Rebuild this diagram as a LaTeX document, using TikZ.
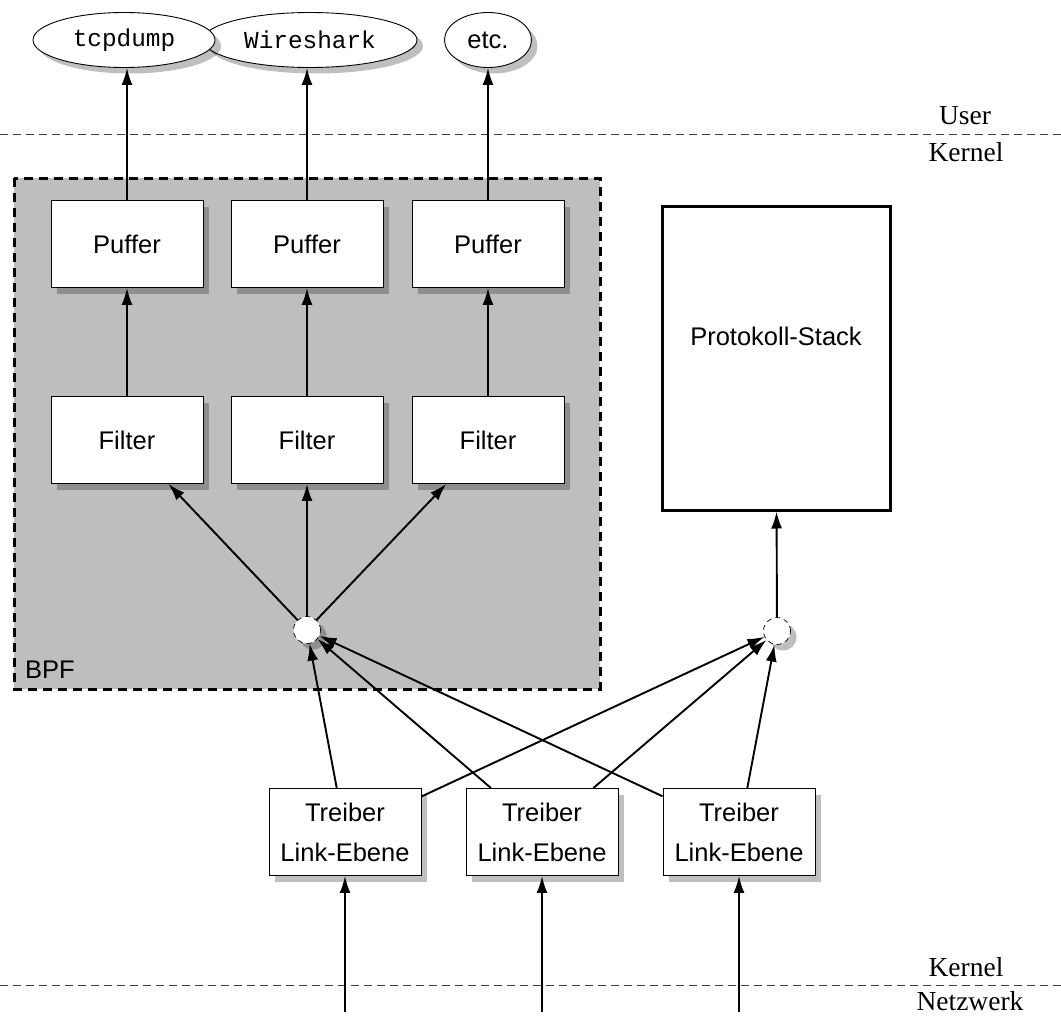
\documentclass[tikz,border=0pt]{standalone}
\usepackage{fontspec}
\setmainfont{Liberation Serif}
\setsansfont{Liberation Sans}
\setmonofont{Liberation Mono}
\usetikzlibrary{shapes.geometric,shadows,arrows.meta}
\definecolor{bpfgray}{RGB}{190,190,190}
\begin{document}
\begin{tikzpicture}[x=1pt,y=-1pt,
  shad/.style={drop shadow={shadow xshift=6pt,shadow yshift=-6pt,fill=black,opacity=0.25}},
  box/.style={draw=black,line width=0.9pt,fill=white,shad,minimum width=152pt,minimum height=87pt,
     font=\sffamily\fontsize{25.5}{40}\selectfont,align=center,inner sep=0pt},
  app/.style={draw=black,line width=0.9pt,fill=white,ellipse,shad,minimum height=55pt,inner sep=0pt},
  junc/.style={circle,draw=black,line width=0.7pt,dash pattern=on 5pt off 4pt,fill=white,shad,minimum size=27pt,inner sep=0pt},
  arr/.style={line width=1.9pt,-{Latex[length=17pt,width=11pt]}},
  sep/.style={line width=1pt,black!75,dash pattern=on 8pt off 5pt},
  lbl/.style={font=\rmfamily\fontsize{27.5}{30}\selectfont,inner sep=0pt}
]
\useasboundingbox (0,0) rectangle (1061,1017);
% BPF area
\draw[line width=3pt,dash pattern=on 9pt off 6pt,fill=bpfgray] (14,178) rectangle (600,689);
\node[anchor=base west,font=\sffamily\fontsize{25.5}{28}\selectfont,inner sep=0pt] (bpf) at (25,678) {BPF};
% separators
\draw[sep] (0,134) -- (1061,134);
\draw[sep] (0,985) -- (1061,985);
\node[lbl,anchor=base] (user) at (965,124) {User};
\node[lbl,anchor=base] (kern1) at (966,161) {Kernel};
\node[lbl,anchor=base] (kern2) at (966,976) {Kernel};
\node[lbl,anchor=base] (netz) at (970,1010) {Netzwerk};
% applications
\node[app,minimum width=214pt,font=\ttfamily\fontsize{24.4}{26}\selectfont] (e2) at (310,40) {Wireshark};
\node[app,minimum width=182pt,font=\ttfamily\fontsize{24.4}{26}\selectfont] (e1) at (124,40) {tcpdump};
\node[app,minimum width=87pt,font=\sffamily\fontsize{25.5}{28}\selectfont] (e3) at (488,40) {etc.};
% buffers and filters
\node[box] (p1) at (127,244) {Puffer};
\node[box] (p2) at (307,244) {Puffer};
\node[box] (p3) at (488,244) {Puffer};
\node[box] (f1) at (127,440) {Filter};
\node[box] (f2) at (307,440) {Filter};
\node[box] (f3) at (488,440) {Filter};
% protocol stack
\node[draw=black,line width=3pt,fill=white,minimum width=228pt,minimum height=304pt,inner sep=0pt] (ps) at (776,358) {};
\node[font=\sffamily\fontsize{25.5}{28}\selectfont,inner sep=0pt] (pst) at (776,336) {Protokoll-Stack};
% junctions
\node[junc] (c1) at (307,630) {};
\node[junc] (c2) at (777,631) {};
% drivers
\node[box] (t1) at (345,832) {Treiber\\Link-Ebene};
\node[box] (t2) at (542,832) {Treiber\\Link-Ebene};
\node[box] (t3) at (739,832) {Treiber\\Link-Ebene};
% free ends below
\coordinate (n1) at (345,1012);
\coordinate (n2) at (542,1012);
\coordinate (n3) at (739,1012);
% arrows
\draw[arr] (p1.north) -- (p1.north |- e1.south);
\draw[arr] (p2.north) -- (p2.north |- e2.south);
\draw[arr] (p3.north) -- (p3.north |- e3.south);
\draw[arr] (f1) -- (p1);
\draw[arr] (f2) -- (p2);
\draw[arr] (f3) -- (p3);
\draw[arr] (c1) -- (f1);
\draw[arr] (c1) -- (f2);
\draw[arr] (c1) -- (f3);
\draw[arr] (c2) -- (ps);
\draw[arr] (t1) -- (c1);
\draw[arr] (t2) -- (c1);
\draw[arr] (t3) -- (c1);
\draw[arr] (t1) -- (c2);
\draw[arr] (t2) -- (c2);
\draw[arr] (t3) -- (c2);
\draw[arr] (n1) -- (t1);
\draw[arr] (n2) -- (t2);
\draw[arr] (n3) -- (t3);
\end{tikzpicture}
\end{document}
